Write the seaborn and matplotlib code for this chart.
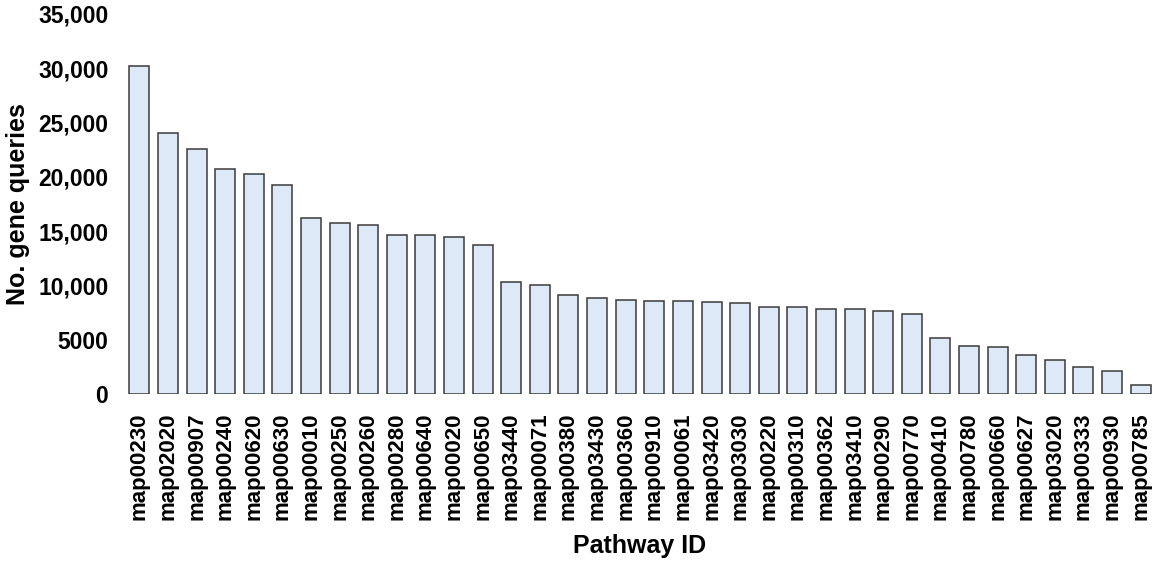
import matplotlib
matplotlib.use("Agg")
import matplotlib.pyplot as plt
import seaborn as sns
import pandas as pd

pathways = ["map00230", "map02020", "map00907", "map00240", "map00620", "map00630",
            "map00010", "map00250", "map00260", "map00280", "map00640", "map00020",
            "map00650", "map03440", "map00071", "map00380", "map03430", "map00360",
            "map00910", "map00061", "map03420", "map03030", "map00220", "map00310",
            "map00362", "map03410", "map00290", "map00770", "map00410", "map00780",
            "map00660", "map00627", "map03020", "map00333", "map00930", "map00785"]
queries = [30200, 24000, 22560, 20750, 20260, 19270,
           16180, 15720, 15530, 14610, 14600, 14460,
           13750, 10340, 10070, 9090, 8810, 8660,
           8590, 8590, 8470, 8350, 8040, 7980,
           7830, 7800, 7610, 7400, 5190, 4390,
           4370, 3560, 3100, 2490, 2090, 800]
ytick_vals = [0, 5000, 10000, 15000, 20000, 25000, 30000, 35000]
ytick_text = ["0", "5000", "10,000", "15,000", "20,000", "25,000", "30,000", "35,000"]

df = pd.DataFrame({"Pathway ID": pathways, "No. gene queries": queries})

sns.set_style("white")
plt.rcParams["font.family"] = ["Liberation Sans", "DejaVu Sans"]
plt.rcParams["text.color"] = "black"
plt.rcParams["axes.labelcolor"] = "black"
plt.rcParams["xtick.color"] = "black"
plt.rcParams["ytick.color"] = "black"

fig = plt.figure(figsize=(11.61, 5.66), dpi=100)
ax = fig.add_axes([125 / 1161, 1 - 394 / 566, 1030 / 1161, 380 / 566])

sns.barplot(data=df, x="Pathway ID", y="No. gene queries", color="#dde9f6",
            edgecolor="#3a3a3a", linewidth=1.1, width=0.7, saturation=1, ax=ax)

ax.set_ylim(0, 35000)
ax.set_xlim(-0.5, len(pathways) - 0.5)
ax.set_yticks(ytick_vals)
ax.set_yticklabels(ytick_text, fontsize=16.5, fontweight="bold")
ax.set_xticks(range(len(pathways)))
ax.set_xticklabels(pathways, rotation=90, fontsize=16, fontweight="bold")
ax.tick_params(axis="both", length=0)
ax.tick_params(axis="y", pad=12)
ax.tick_params(axis="x", pad=13)
ax.set_xlabel("Pathway ID", fontsize=18, fontweight="bold", labelpad=10)
ax.set_ylabel("No. gene queries", fontsize=18, fontweight="bold", labelpad=6)
sns.despine(ax=ax, left=True, bottom=True)

fig.savefig("out.png", dpi=100)
